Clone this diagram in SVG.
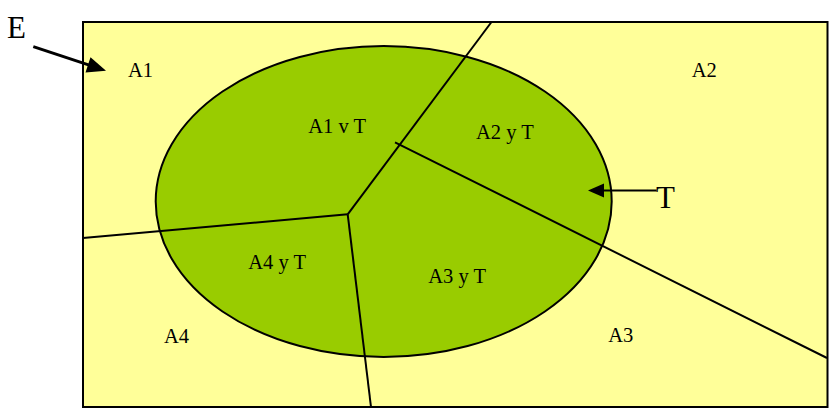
<svg xmlns="http://www.w3.org/2000/svg" width="833" height="413" viewBox="0 0 833 413">
<style>
.lbl{font-family:"Liberation Serif","Times New Roman",serif;font-size:20.5px;fill:#000}
.big{font-family:"Liberation Serif","Times New Roman",serif;font-size:31px;fill:#000}
.ln{stroke:#000;stroke-width:2;fill:none}
.head{fill:#000;stroke:none}
</style>
<rect width="833" height="413" fill="#fff"/>
<g id="E-set">
<rect x="83" y="22" width="744.5" height="385" fill="#FFFF99" stroke="#000" stroke-width="2"/>
</g>
<g id="T-set">
<ellipse cx="383.7" cy="201.5" rx="228" ry="155.5" fill="#99CC00" stroke="#000" stroke-width="2"/>
</g>
<g id="connectors">
<line class="ln" x1="347.7" y1="214.3" x2="491.5" y2="22"/>
<line class="ln" x1="347.7" y1="214.3" x2="83" y2="238"/>
<line class="ln" x1="347.7" y1="214.3" x2="371" y2="407"/>
<line class="ln" x1="395" y1="142.3" x2="827" y2="358"/>
<line class="ln" x1="33.3" y1="46.7" x2="90" y2="65.4" style="stroke-width:3"/>
<polygon class="head" points="106,70.7 85.5,72.4 90.5,57.2"/>
<line class="ln" x1="656.7" y1="190.5" x2="603" y2="190.5"/>
<polygon class="head" points="588,190.5 604,183.5 604,197.5"/>
</g>
<g id="labels">
<text class="big" x="7" y="38.3">E</text>
<text class="big" x="656" y="208.3">T</text>
<text class="lbl" x="128" y="77">A1</text>
<text class="lbl" x="691.7" y="77.3">A2</text>
<text class="lbl" x="308.3" y="132.7">A1 v T</text>
<text class="lbl" x="476" y="139.3">A2 y T</text>
<text class="lbl" x="248.3" y="269.3">A4 y T</text>
<text class="lbl" x="428.3" y="283.3">A3 y T</text>
<text class="lbl" x="164" y="342.7">A4</text>
<text class="lbl" x="608.3" y="341.7">A3</text>
</g>
</svg>
